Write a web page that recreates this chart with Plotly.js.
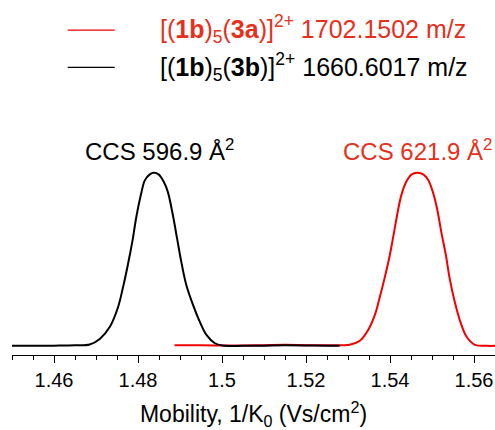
<!DOCTYPE html>
<html>
<head>
<meta charset="utf-8">
<script src="https://cdn.plot.ly/plotly-3.0.1.min.js"></script>
<style>html,body{margin:0;padding:0;background:#fff;}#chart{width:495px;height:430px;}</style>
</head>
<body>
<div id="chart"></div>
<script>
// ---- data ----
var mobility3b = [1.450, 1.455, 1.460, 1.465, 1.4685, 1.4709, 1.4733, 1.4752, 1.4764, 1.4776, 1.4787, 1.4796, 1.4808, 1.4816, 1.4828, 1.4838, 1.4849, 1.4861, 1.4871, 1.4883, 1.4893, 1.4903, 1.4915, 1.4931, 1.4947, 1.4963, 1.4983, 1.5002, 1.505, 1.510, 1.515, 1.520, 1.525, 1.528];
var intensity3b = [0.000, 0.000, 0.001, 0.003, 0.008, 0.040, 0.110, 0.220, 0.335, 0.470, 0.610, 0.745, 0.885, 0.955, 0.991, 1.000, 0.991, 0.950, 0.890, 0.756, 0.621, 0.487, 0.352, 0.237, 0.140, 0.063, 0.015, 0.002, 0.000, 0.001, 0.003, 0.002, 0.000, 0.000];

var mobility3a = [1.4887, 1.495, 1.500, 1.505, 1.510, 1.515, 1.520, 1.525, 1.5280, 1.5304, 1.5328, 1.5348, 1.5364, 1.5375, 1.5387, 1.5398, 1.5407, 1.5417, 1.5427, 1.5439, 1.5451, 1.5465, 1.5480, 1.5491, 1.5502, 1.5512, 1.5522, 1.5533, 1.5542, 1.5554, 1.5566, 1.5582, 1.5602, 1.5630, 1.5650];
var intensity3a = [0.003, 0.003, 0.002, 0.002, 0.004, 0.006, 0.004, 0.003, 0.004, 0.006, 0.029, 0.092, 0.179, 0.275, 0.390, 0.506, 0.621, 0.756, 0.871, 0.950, 0.990, 1.000, 0.990, 0.958, 0.890, 0.794, 0.660, 0.525, 0.390, 0.256, 0.150, 0.054, 0.006, 0.000, 0.000];

var seriesNames = ['[(<b>1b</b>)<sub>5</sub>(<b>3a</b>)]<sup>2+</sup> 1702.1502 m/z',
                   '[(<b>1b</b>)<sub>5</sub>(<b>3b</b>)]<sup>2+</sup> 1660.6017 m/z'];
var ccsLabels = ['CCS 621.9 Å<sup>2</sup>', 'CCS 596.9 Å<sup>2</sup>'];
var tickValues = [1.46, 1.48, 1.50, 1.52, 1.54, 1.56];
var tickLabels = ['1.46', '1.48', '1.5', '1.52', '1.54', '1.56'];
var axisTitle = 'Mobility, 1/K<sub>0</sub> (Vs/cm<sup>2</sup>)';

// ---- styling ----
var W = 495, H = 430;
var M = {l: 12.3, r: 0, t: 100, b: 74.5};
var lineRed = '#f20000', textRed = '#e5301c', black = '#000000';
var FONT = '"Liberation Sans", Arial, Helvetica, sans-serif';
var pw = W - M.l - M.r, ph = H - M.t - M.b;
function px(x) { return (x - M.l) / pw; }
function py(y) { return (H - M.b - y) / ph; }

function peakX(xs, ys) {
  var k = 0;
  for (var i = 1; i < ys.length; i++) if (ys[i] > ys[k]) k = i;
  return xs[k];
}

var traces = [
  {x: mobility3a, y: intensity3a, mode: 'lines', line: {color: lineRed, width: 2, shape: 'spline', smoothing: 1}, hoverinfo: 'skip'},
  {x: mobility3b, y: intensity3b, mode: 'lines', line: {color: black, width: 2, shape: 'spline', smoothing: 1}, hoverinfo: 'skip'}
];

var layout = {
  width: W, height: H,
  margin: M,
  paper_bgcolor: '#fff', plot_bgcolor: '#fff',
  showlegend: false,
  font: {family: FONT, color: black, size: 20},
  xaxis: {
    range: [1.45, 1.565], fixedrange: true,
    showline: true, linecolor: black, linewidth: 1,
    showgrid: false, zeroline: false,
    tickmode: 'array', tickvals: tickValues, ticktext: tickLabels,
    ticks: 'outside', ticklen: 7, tickwidth: 1, tickcolor: black,
    tickfont: {family: FONT, size: 20, color: black},
    minor: {tickmode: 'linear', tick0: 1.45, dtick: 0.005, ticks: 'outside', ticklen: 4, tickwidth: 1, tickcolor: black, showgrid: false},
    title: {text: axisTitle, font: {family: FONT, size: 23, color: black}, standoff: 22},
    automargin: false
  },
  yaxis: {range: [-0.053, 1.421], visible: false, fixedrange: true, showgrid: false, zeroline: false},
  shapes: [
    {type: 'line', xref: 'paper', yref: 'paper', x0: px(68), x1: px(115), y0: py(30), y1: py(30), line: {color: lineRed, width: 1.3}},
    {type: 'line', xref: 'paper', yref: 'paper', x0: px(68), x1: px(115), y0: py(67.3), y1: py(67.3), line: {color: black, width: 1.3}}
  ],
  annotations: [
    {xref: 'paper', yref: 'paper', x: px(158), y: py(28.5), xanchor: 'left', yanchor: 'middle', showarrow: false,
     text: seriesNames[0], font: {family: FONT, size: 25, color: textRed}},
    {xref: 'paper', yref: 'paper', x: px(158), y: py(66.5), xanchor: 'left', yanchor: 'middle', showarrow: false,
     text: seriesNames[1], font: {family: FONT, size: 25, color: black}},
    {xref: 'x', yref: 'paper', x: peakX(mobility3a, intensity3a), y: py(150), xanchor: 'center', yanchor: 'middle', showarrow: false,
     text: ccsLabels[0], font: {family: FONT, size: 24, color: textRed}},
    {xref: 'x', yref: 'paper', x: peakX(mobility3b, intensity3b), xshift: 6, y: py(150), xanchor: 'center', yanchor: 'middle', showarrow: false,
     text: ccsLabels[1], font: {family: FONT, size: 24, color: black}}
  ]
};

Plotly.newPlot('chart', traces, layout, {staticPlot: true, displayModeBar: false});
</script>
</body>
</html>
